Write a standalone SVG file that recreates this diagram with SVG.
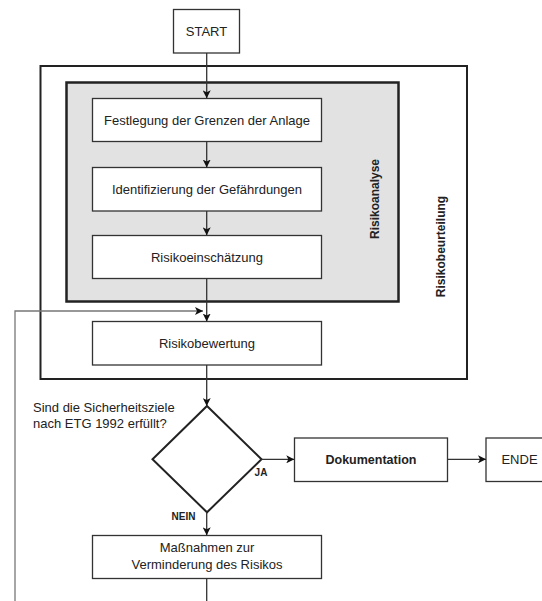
<svg xmlns="http://www.w3.org/2000/svg" width="542" height="601" viewBox="0 0 542 601">
<defs>
<marker id="arr" viewBox="0 0 10 10" refX="10" refY="5" markerWidth="8" markerHeight="8" markerUnits="userSpaceOnUse" orient="auto">
<path d="M0,0 L10,5 L0,10 L2.5,5 z" fill="#111"/>
</marker>
<style>
.box{fill:#fff;stroke:#333;stroke-width:1.3}
.t{font-family:"Liberation Sans",Arial,sans-serif;font-size:13px;fill:#222;text-anchor:middle}
.b{font-family:"Liberation Sans",Arial,sans-serif;font-weight:bold;fill:#222;text-anchor:middle}
.c{fill:none;stroke:#333;stroke-width:1.3}
.fb{fill:none;stroke:#777;stroke-width:1.3}
</style>
</defs>
<rect width="542" height="601" fill="#fff"/>
<g id="risikobeurteilung">
<rect x="40.5" y="66" width="426.5" height="313" fill="#fff" stroke="#222" stroke-width="2"/>
<text class="b" font-size="12" transform="translate(444.5,246.5) rotate(-90)">Risikobeurteilung</text>
</g>
<g id="risikoanalyse">
<rect x="66.5" y="82.5" width="332" height="219" fill="#e2e2e2" stroke="#222" stroke-width="2.5"/>
<text class="b" font-size="12" transform="translate(378.5,199) rotate(-90)">Risikoanalyse</text>
</g>
<g id="start">
<rect class="box" x="173.5" y="9.5" width="66" height="43.5"/>
<text class="t" x="206.5" y="35.5">START</text>
</g>
<g id="festlegung">
<rect class="box" x="92.5" y="98.5" width="229" height="43"/>
<text class="t" x="207" y="124.5">Festlegung der Grenzen der Anlage</text>
</g>
<g id="identifizierung">
<rect class="box" x="92.5" y="167.5" width="229" height="43.5"/>
<text class="t" x="207" y="193.8">Identifizierung der Gefährdungen</text>
</g>
<g id="risikoeinschaetzung">
<rect class="box" x="92.5" y="235.5" width="229" height="43"/>
<text class="t" x="207" y="261.5">Risikoeinschätzung</text>
</g>
<g id="risikobewertung">
<rect class="box" x="92.5" y="321.5" width="229" height="43.5"/>
<text class="t" x="207" y="347.8">Risikobewertung</text>
</g>
<g id="entscheidung">
<path d="M207,406 L261.5,459.3 L207,512.3 L152.5,459.3 Z" fill="#fff" stroke="#222" stroke-width="2"/>
<text class="t" text-anchor="start" x="33" y="411.7" style="text-anchor:start">Sind die Sicherheitsziele</text>
<text class="t" x="33" y="427.7" style="text-anchor:start">nach ETG 1992 erfüllt?</text>
</g>
<g id="dokumentation">
<rect class="box" x="294.5" y="438" width="153" height="43.5"/>
<text class="b" font-size="12.5" x="371" y="464">Dokumentation</text>
</g>
<g id="ende">
<rect class="box" x="486" y="438" width="67" height="43.5"/>
<text class="t" x="519.5" y="464">ENDE</text>
</g>
<g id="massnahmen">
<rect class="box" x="92.5" y="535.5" width="229" height="43"/>
<text class="t" x="207" y="552.3">Maßnahmen zur</text>
<text class="t" x="207" y="569.3">Verminderung des Risikos</text>
</g>
<g id="connectors">
<line class="c" x1="206.7" y1="53" x2="206.7" y2="98.3" marker-end="url(#arr)"/>
<line class="c" x1="206.7" y1="141.7" x2="206.7" y2="167.5" marker-end="url(#arr)"/>
<line class="c" x1="206.7" y1="211" x2="206.7" y2="235.3" marker-end="url(#arr)"/>
<line class="c" x1="206.7" y1="278.7" x2="206.7" y2="321.5" marker-end="url(#arr)"/>
<polyline class="fb" points="15,601 15,311 203,311" marker-end="url(#arr)"/>
<line class="c" x1="206.7" y1="365" x2="206.7" y2="406" marker-end="url(#arr)"/>
<line class="c" x1="261.5" y1="459.3" x2="294.3" y2="459.3" marker-end="url(#arr)"/>
<line class="c" x1="447.5" y1="459.3" x2="486" y2="459.3" marker-end="url(#arr)"/>
<line class="c" x1="206.7" y1="512.3" x2="206.7" y2="535.3" marker-end="url(#arr)"/>
<line class="c" x1="206.7" y1="578.7" x2="206.7" y2="601"/>
<text class="b" font-size="10" x="261" y="475.7">JA</text>
<text class="b" font-size="10" x="183.5" y="520">NEIN</text>
</g>
</svg>
